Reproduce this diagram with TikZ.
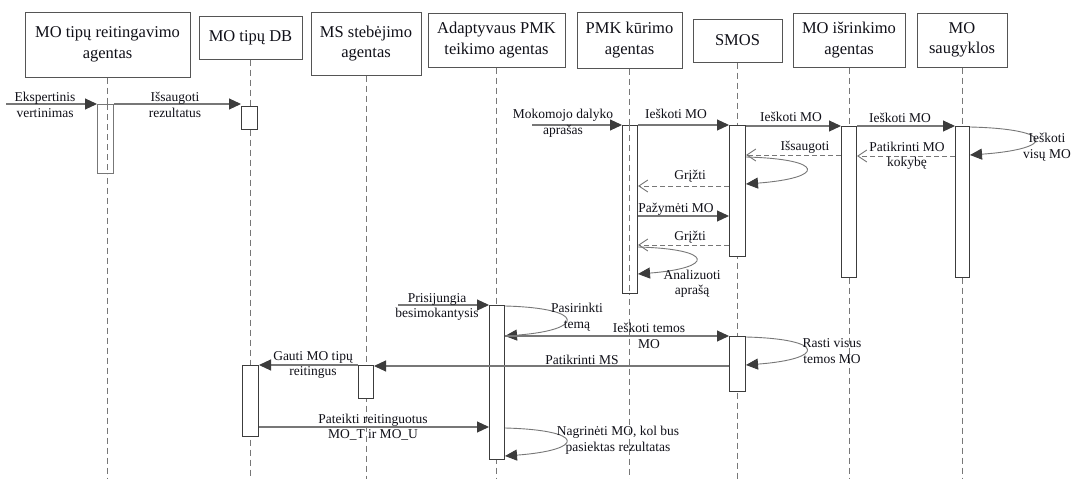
\documentclass[tikz,border=0pt]{standalone}
\usepackage{fontspec}
\setmainfont{Liberation Serif}
\usetikzlibrary{arrows.meta,calc}
\definecolor{boxc}{HTML}{555555}
\definecolor{linec}{HTML}{777777}
\definecolor{tipc}{HTML}{3C3C3C}
\definecolor{txt}{HTML}{101018}
\tikzset{
 hdr/.style={draw=boxc, line width=1pt, fill=white, align=center, text=txt, font=\fontsize{16.5}{20.5}\selectfont, inner sep=0pt},
 life/.style={draw=boxc!80, line width=0.8pt, dash pattern=on 6pt off 4pt},
 act/.style={draw=tipc, line width=1pt, fill=white, inner sep=0pt, anchor=north west},
 msg/.style={draw=linec, line width=1.1pt, -{Triangle[length=12pt,width=11pt,color=tipc]}},
 loopm/.style={draw=linec, line width=0.9pt, -{Triangle[length=12pt,width=11pt,color=tipc]}},
 ret/.style={draw=linec, line width=0.9pt, dash pattern=on 5pt off 3pt, -{Straight Barb[length=9pt,width=12pt,color=linec]}},
 lbl/.style={align=center, text=txt, font=\fontsize{13.5}{15.5}\selectfont, inner sep=0pt},
}
\begin{document}
\begin{tikzpicture}[x=1pt,y=-1pt]
\useasboundingbox[fill=white] (0,0) rectangle (1074,479);
\coordinate (bot) at (0,479);
% headers
\node[hdr, minimum width=165pt, minimum height=65pt] (h1) at (107.5,44.5) {MO tipų reitingavimo\\agentas};
\node[hdr, minimum width=103pt, minimum height=43pt] (h2) at (250.5,37.5) {MO tipų DB};
\node[hdr, minimum width=110pt, minimum height=63pt] (h3) at (366,43.5) {MS stebėjimo\\agentas};
\node[hdr, minimum width=137pt, minimum height=54pt] (h4) at (496.5,40) {Adaptyvaus PMK\\teikimo agentas};
\node[hdr, minimum width=105pt, minimum height=56pt] (h5) at (629.5,40) {PMK kūrimo\\agentas};
\node[hdr, minimum width=89pt, minimum height=43pt] (h6) at (737.5,40.5) {SMOS};
\node[hdr, minimum width=112pt, minimum height=54pt] (h7) at (849,40) {MO išrinkimo\\agentas};
\node[hdr, minimum width=90pt, minimum height=54pt] (h8) at (962,40) {MO\\saugyklos};
% lifelines
\foreach \h in {h1,h2,h3,h4,h5,h6,h7,h8} {\draw[life] (\h.south) -- (\h.south |- bot);}
% activations
\node[act, draw=linec, minimum width=16pt, minimum height=69pt] (a1) at (97,104) {};
\node[act, minimum width=16pt, minimum height=23pt] (a2) at (241,106) {};
\node[act, minimum width=15pt, minimum height=168pt] (a3) at (622,125) {};
\node[act, minimum width=16pt, minimum height=131pt] (a4) at (729,125) {};
\node[act, minimum width=15pt, minimum height=151pt] (a5) at (841,126) {};
\node[act, minimum width=14pt, minimum height=151pt] (a6) at (955,126) {};
\node[act, minimum width=15pt, minimum height=154pt] (a7) at (489,305) {};
\node[act, minimum width=16pt, minimum height=55pt] (a8) at (729,336) {};
\node[act, minimum width=15pt, minimum height=33pt] (a9) at (358,365) {};
\node[act, minimum width=16pt, minimum height=71pt] (a10) at (242,365) {};
\draw[life] (a1.north -| h1.south) -- (a1.south -| h1.south);
\draw[life] (a3.north -| h5.south) -- (a3.south -| h5.south);
% message rows
\coordinate (s1) at (6,104);
\coordinate (y1) at (0,104);
\coordinate (s3) at (532,125);
\coordinate (y3) at (0,125);
\coordinate (y5) at (0,126);
\coordinate (y7a) at (0,127);
\coordinate (y7b) at (0,155);
\coordinate (y8) at (0,156);
\coordinate (y9) at (0,155);
\coordinate (y10a) at (0,157);
\coordinate (y10b) at (0,184);
\coordinate (y11) at (0,186);
\coordinate (y12) at (0,216);
\coordinate (y13) at (0,245);
\coordinate (y14a) at (0,247);
\coordinate (y14b) at (0,274);
\coordinate (s15) at (398,305);
\coordinate (y16a) at (0,306);
\coordinate (y16b) at (0,336);
\coordinate (y17) at (0,336);
\coordinate (y18a) at (0,337);
\coordinate (y18b) at (0,365);
\coordinate (y19) at (0,366);
\coordinate (y20) at (0,365);
\coordinate (y21) at (0,427);
\coordinate (y22a) at (0,428);
\coordinate (y22b) at (0,456);
% messages
\draw[msg] (s1) -- (a1.west |- y1);
\node[lbl] (l1) at (45,105) {Ekspertinis\\vertinimas};
\draw[msg] (a1.east |- y1) -- (a2.west |- y1);
\node[lbl] (l2) at (175,105) {Išsaugoti\\rezultatus};
\draw[msg] (s3) -- (a3.west |- y3);
\node[lbl] (l3) at (563,123.5) {Mokomojo dalyko\\aprašas};
\draw[msg] (a3.east |- y3) -- (a4.west |- y3);
\node[lbl] (l4) at (676,114) {Ieškoti MO};
\draw[msg] (a4.east |- y5) -- (a5.west |- y5);
\node[lbl] (l5) at (791,117) {Ieškoti MO};
\draw[msg] (a5.east |- y5) -- (a6.west |- y5);
\node[lbl] (l6) at (900,118) {Ieškoti MO};
\draw[loopm] (a6.east |- y7a) .. controls +(86,2) and +(86,-6) .. (a6.east |- y7b);
\node[lbl] (l7) at (1047,147) {Ieškoti\\visų MO};
\draw[ret] (a6.west |- y8) -- (a5.east |- y8);
\node[lbl] (l8) at (907,156) {Patikrinti MO\\kokybę};
\draw[ret] (a5.west |- y9) -- (a4.east |- y9);
\node[lbl] (l9) at (805,147) {Išsaugoti};
\draw[loopm] (a4.east |- y10a) .. controls +(80,2) and +(80,-6) .. (a4.east |- y10b);
\draw[ret] (a4.west |- y11) -- (a3.east |- y11);
\node[lbl] (l11) at (690,176) {Grįžti};
\draw[msg] (a3.east |- y12) -- (a4.west |- y12);
\node[lbl] (l12) at (676,209) {Pažymėti MO};
\draw[ret] (a4.west |- y13) -- (a3.east |- y13);
\node[lbl] (l13) at (690,237) {Grįžti};
\draw[loopm] (a3.east |- y14a) .. controls +(77,2) and +(77,-6) .. (a3.east |- y14b);
\node[lbl] (l14) at (692,284) {Analizuoti\\aprašą};
\draw[msg] (s15) -- (a7.west |- s15);
\node[lbl] (l15) at (437,307) {Prisijungia\\besimokantysis};
\draw[loopm] (a7.east |- y16a) .. controls +(81,2) and +(81,-6) .. (a7.east |- y16b);
\node[lbl] (l16) at (577,317) {Pasirinkti\\temą};
\draw[msg] (a7.east |- y17) -- (a8.west |- y17);
\node[lbl] (l17) at (649,336) {Ieškoti temos\\MO};
\draw[loopm] (a8.east |- y18a) .. controls +(80,2) and +(80,-6) .. (a8.east |- y18b);
\node[lbl] (l18) at (832,351) {Rasti visus\\temos MO};
\draw[msg] (a8.west |- y19) -- (a9.east |- y19);
\node[lbl] (l19) at (582,360) {Patikrinti MS};
\draw[msg] (a9.west |- y20) -- (a10.east |- y20);
\node[lbl] (l20) at (313,365) {Gauti MO tipų\\reitingus};
\draw[msg] (a10.east |- y21) -- (a7.west |- y21);
\node[lbl] (l21) at (373,427) {Pateikti reitinguotus\\MO\_T ir MO\_U};
\draw[loopm] (a7.east |- y22a) .. controls +(81,2) and +(81,-6) .. (a7.east |- y22b);
\node[lbl] (l22) at (618,440) {Nagrinėti MO, kol bus\\pasiektas rezultatas};
\end{tikzpicture}
\end{document}
